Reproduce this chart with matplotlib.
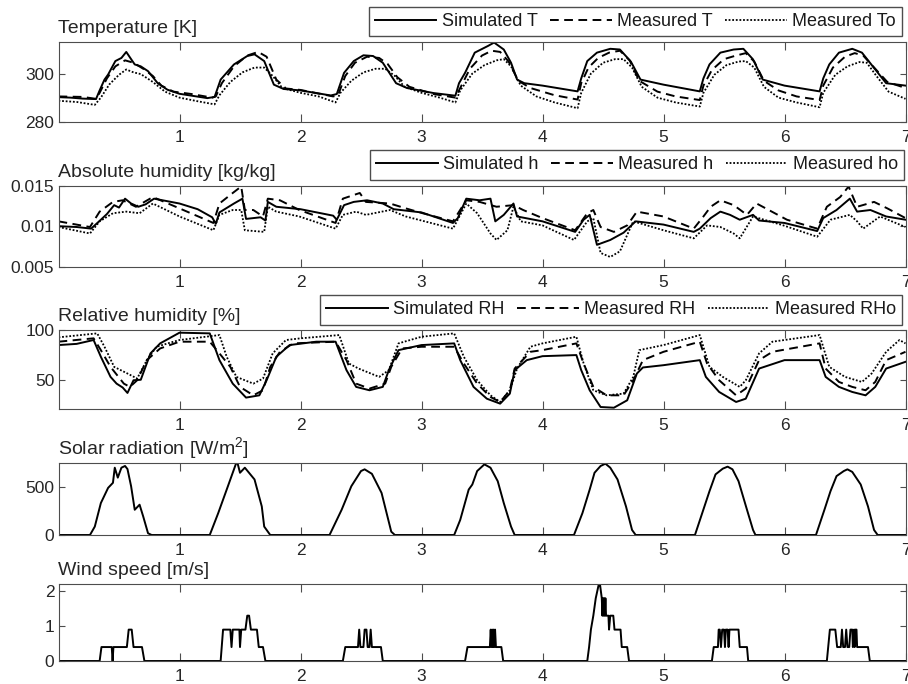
#!/usr/bin/env python3

import numpy as np
import matplotlib
matplotlib.use("Agg")
import matplotlib.pyplot as plt
#----

plt.rcParams['font.family'] = ['Liberation Sans', 'DejaVu Sans']
plt.rcParams['mathtext.fontset'] = 'custom'
plt.rcParams['mathtext.rm'] = 'Liberation Sans'
plt.rcParams['mathtext.it'] = 'Liberation Sans:italic'

# ---- Temperature [K], values (time in days)
t_T_sim = [0.0, 0.1, 0.2, 0.31, 0.34, 0.38, 0.41, 0.47, 0.52, 0.56, 0.6, 0.63, 0.68, 0.74, 0.82, 0.9, 1.0, 1.23, 1.29,
           1.34, 1.45, 1.56, 1.62, 1.70, 1.78, 1.86, 2.0, 2.25, 2.30,
           2.36, 2.44, 2.52, 2.60, 2.68, 2.79, 2.88, 3.10, 3.28,
           3.31, 3.36, 3.44, 3.55, 3.60, 3.68, 3.74, 3.79, 3.85, 4.0, 4.29,
           4.32, 4.37, 4.45, 4.56, 4.64, 4.73, 4.81, 5.0, 5.30,
           5.33, 5.38, 5.47, 5.58, 5.66, 5.74, 5.82, 6.0, 6.29,
           6.32, 6.37, 6.45, 6.56, 6.64, 6.75, 6.84, 7.0]
T_sim = [290.2, 290.0, 289.6, 289.4, 293.0, 297.5, 299.6, 305.2, 306.5, 309.0, 306.0, 303.8, 303.0, 301.0, 296.0, 293.3, 291.6, 289.8, 290.3,
         297.5, 303.8, 307.3, 308.0, 305.2, 295.4, 293.6, 293.0, 290.9, 291.5,
         300.3, 305.2, 307.6, 307.3, 304.5, 296.0, 294.0, 291.9, 290.8,
         296.0, 300.3, 308.7, 311.5, 312.9, 310.0, 304.5, 297.5, 296.0, 295.0, 292.6,
         298.0, 305.2, 308.7, 310.3, 310.0, 305.0, 297.5, 295.4, 292.6,
         298.0, 303.8, 308.7, 310.0, 310.3, 305.9, 297.5, 295.0, 292.6,
         298.0, 303.8, 308.7, 310.3, 308.7, 301.7, 296.0, 295.0]

t_T_meas = [0.0, 0.2, 0.31, 0.34, 0.40, 0.47, 0.55, 0.62, 0.7, 0.78, 0.85, 0.95, 1.1, 1.27,
            1.30, 1.35, 1.45, 1.56, 1.65, 1.72, 1.80, 1.88, 2.0, 2.27,
            2.31, 2.37, 2.45, 2.55, 2.65, 2.72, 2.80, 2.9, 3.1, 3.28,
            3.32, 3.40, 3.50, 3.58, 3.65, 3.72, 3.80, 3.9, 4.1, 4.29,
            4.32, 4.38, 4.46, 4.55, 4.64, 4.72, 4.80, 4.95, 5.1, 5.30,
            5.33, 5.40, 5.50, 5.60, 5.68, 5.75, 5.83, 5.95, 6.1, 6.29,
            6.32, 6.40, 6.50, 6.58, 6.65, 6.75, 6.85, 7.0]
T_meas = [290.5, 290.3, 289.5, 292.0, 298.0, 303.0, 305.5, 304.5, 302.0, 299.0, 295.0, 292.5, 291.5, 290.0,
          290.5, 296.0, 303.0, 307.5, 309.0, 307.0, 297.5, 293.8, 293.2, 290.5,
          291.0, 299.0, 304.5, 307.0, 306.5, 304.0, 298.5, 294.5, 291.5, 290.0,
          294.0, 302.0, 307.5, 309.5, 309.0, 305.0, 297.0, 294.0, 291.0, 289.2,
          296.0, 302.5, 306.5, 308.7, 309.5, 305.5, 297.0, 292.5, 290.5, 289.0,
          295.0, 301.5, 306.0, 307.5, 308.5, 305.0, 297.0, 293.0, 290.5, 289.0,
          295.0, 302.5, 307.0, 308.5, 307.5, 302.0, 296.5, 294.0]

t_T_out = [0.0, 0.15, 0.30, 0.35, 0.42, 0.50, 0.56, 0.62, 0.68, 0.78, 0.88, 1.0, 1.15, 1.29,
           1.33, 1.42, 1.52, 1.62, 1.70, 1.77, 1.85, 2.0, 2.15, 2.29,
           2.33, 2.42, 2.52, 2.62, 2.70, 2.78, 2.86, 3.0, 3.15, 3.28,
           3.32, 3.42, 3.52, 3.62, 3.68, 3.74, 3.82, 3.95, 4.1, 4.29,
           4.32, 4.40, 4.50, 4.60, 4.67, 4.74, 4.82, 4.95, 5.1, 5.30,
           5.33, 5.42, 5.52, 5.62, 5.68, 5.75, 5.83, 5.95, 6.1, 6.29,
           6.32, 6.42, 6.52, 6.62, 6.68, 6.76, 6.86, 7.0]
T_out = [288.7, 288.2, 287.0, 290.0, 295.5, 299.5, 301.7, 300.5, 299.8, 296.5, 292.5, 290.0, 288.5, 287.2,
         291.0, 296.5, 300.5, 302.5, 302.5, 299.0, 294.0, 292.0, 290.5, 288.0,
         292.0, 297.0, 300.5, 302.0, 302.0, 299.0, 294.5, 292.0, 290.0, 288.0,
         293.0, 300.0, 303.5, 305.5, 306.0, 303.0, 295.0, 290.5, 288.0, 285.6,
         292.0, 300.0, 304.5, 306.0, 306.0, 302.5, 294.5, 290.0, 288.0, 286.3,
         292.0, 299.5, 303.5, 305.0, 305.2, 302.5, 294.5, 290.0, 288.0, 286.0,
         292.0, 299.5, 303.0, 304.8, 304.5, 299.0, 292.5, 289.5]

# ---- Absolute humidity [kg/kg]
t_h_sim = [0.0, 0.15, 0.27, 0.35, 0.40, 0.46, 0.50, 0.55, 0.60, 0.66, 0.72, 0.79, 1.0, 1.15, 1.27, 1.30,
           1.33, 1.45, 1.52, 1.55, 1.67, 1.71, 1.73, 1.80, 2.0, 2.27, 2.30,
           2.36, 2.44, 2.55, 2.68, 2.77, 3.0, 3.26,
           3.30, 3.37, 3.48, 3.57, 3.61, 3.68, 3.76, 3.79, 4.0, 4.27,
           4.34, 4.39, 4.45, 4.56, 4.67, 4.77, 5.0, 5.25,
           5.30, 5.39, 5.47, 5.55, 5.63, 5.74, 5.79, 6.0, 6.27,
           6.32, 6.43, 6.54, 6.60, 6.71, 6.84, 7.0]
h_sim = [0.0100, 0.0099, 0.0097, 0.0108, 0.0115, 0.0126, 0.0123, 0.0134, 0.0128, 0.0124, 0.0127, 0.0134, 0.0128, 0.0121, 0.0111, 0.0103,
         0.0117, 0.0128, 0.0134, 0.0109, 0.0111, 0.0107, 0.0130, 0.0124, 0.0121, 0.0113, 0.0108,
         0.0126, 0.0130, 0.0132, 0.0128, 0.0121, 0.0117, 0.0104,
         0.0110, 0.0134, 0.0132, 0.0134, 0.0106, 0.0114, 0.0128, 0.0112, 0.0106, 0.0093,
         0.0108, 0.0114, 0.0077, 0.0083, 0.0092, 0.0106, 0.0102, 0.0093,
         0.0097, 0.0110, 0.0118, 0.0114, 0.0108, 0.0114, 0.0107, 0.0104, 0.0094,
         0.0110, 0.0120, 0.0134, 0.0118, 0.0120, 0.0112, 0.0108]

t_h_meas = [0.0, 0.26, 0.34, 0.45, 0.53, 0.64, 0.78, 1.0, 1.28,
            1.33, 1.44, 1.51, 1.54, 1.61, 1.69, 1.73, 1.83, 1.99, 2.29,
            2.35, 2.49, 2.54, 2.74, 2.87, 3.01, 3.26,
            3.37, 3.48, 3.62, 3.76, 3.84, 4.0, 4.27,
            4.37, 4.42, 4.48, 4.59, 4.70, 4.78, 5.0, 5.25,
            5.33, 5.39, 5.47, 5.58, 5.69, 5.77, 6.02, 6.27,
            6.35, 6.46, 6.53, 6.60, 6.74, 6.85, 7.0]
h_meas = [0.0106, 0.0099, 0.0118, 0.0130, 0.0132, 0.0124, 0.0136, 0.0122, 0.0104,
          0.0128, 0.0141, 0.0149, 0.0120, 0.0120, 0.0112, 0.0134, 0.0132, 0.0120, 0.0104,
          0.0134, 0.0141, 0.0130, 0.0128, 0.0122, 0.0116, 0.0106,
          0.0132, 0.0130, 0.0124, 0.0126, 0.0120, 0.0110, 0.0095,
          0.0116, 0.0120, 0.0099, 0.0093, 0.0101, 0.0118, 0.0112, 0.0097,
          0.0112, 0.0124, 0.0132, 0.0126, 0.0114, 0.0128, 0.0108, 0.0097,
          0.0124, 0.0136, 0.0149, 0.0124, 0.0130, 0.0122, 0.0110]

t_h_out = [0.0, 0.26, 0.34, 0.45, 0.56, 0.67, 0.78, 1.0, 1.28,
           1.33, 1.44, 1.51, 1.54, 1.70, 1.73, 1.80, 1.99, 2.29,
           2.35, 2.46, 2.54, 2.74, 2.87, 3.26,
           3.37, 3.46, 3.57, 3.62, 3.71, 3.76, 3.82, 4.0, 4.26,
           4.37, 4.42, 4.48, 4.56, 4.64, 4.75, 5.0, 5.25,
           5.36, 5.47, 5.58, 5.63, 5.74, 5.99, 6.27,
           6.38, 6.54, 6.60, 6.65, 6.79, 7.0]
h_out = [0.0099, 0.0091, 0.0106, 0.0116, 0.0118, 0.0116, 0.0128, 0.0112, 0.0095,
         0.0114, 0.0120, 0.0120, 0.0095, 0.0093, 0.0124, 0.0118, 0.0112, 0.0097,
         0.0114, 0.0118, 0.0114, 0.0120, 0.0112, 0.0097,
         0.0128, 0.0116, 0.0091, 0.0083, 0.0095, 0.0124, 0.0106, 0.0101, 0.0083,
         0.0106, 0.0110, 0.0067, 0.0062, 0.0069, 0.0106, 0.0095, 0.0085,
         0.0101, 0.0099, 0.0091, 0.0085, 0.0112, 0.0101, 0.0087,
         0.0108, 0.0114, 0.0106, 0.0097, 0.0112, 0.0099]

# ---- Relative humidity [%]
t_RH_sim = [0.0, 0.15, 0.29, 0.35, 0.43, 0.48, 0.53, 0.57, 0.62, 0.68, 0.76, 0.84, 1.0, 1.25,
            1.33, 1.44, 1.55, 1.66, 1.72, 1.80, 1.91, 2.13, 2.29,
            2.38, 2.46, 2.57, 2.68, 2.73, 2.81, 3.0, 3.27,
            3.32, 3.43, 3.54, 3.65, 3.73, 3.77, 3.87, 4.0, 4.28,
            4.32, 4.39, 4.48, 4.59, 4.70, 4.78, 4.83, 5.0, 5.30,
            5.35, 5.46, 5.60, 5.68, 5.79, 6.0, 6.29,
            6.34, 6.45, 6.56, 6.67, 6.75, 6.84, 7.0]
RH_sim = [84.8, 86.0, 89.9, 73.0, 52.7, 45.9, 42.0, 36.5, 49.3, 49.8, 76.4, 86.5, 97.3, 96.6,
          69.6, 45.9, 31.8, 34.1, 49.3, 73.0, 84.8, 88.2, 88.2,
          59.5, 42.6, 39.2, 42.6, 59.5, 79.7, 84.8, 86.5,
          69.6, 42.6, 30.7, 25.7, 35.8, 59.5, 69.6, 73.6, 74.7,
          59.5, 39.2, 22.3, 21.6, 29.1, 56.1, 62.2, 64.5, 69.6,
          52.7, 37.5, 27.4, 30.7, 61.1, 69.6, 69.6,
          52.7, 42.6, 37.5, 34.1, 42.6, 61.1, 67.9]

t_RH_meas = [0.0, 0.29, 0.35, 0.43, 0.54, 0.59, 0.65, 0.73, 0.84, 1.0, 1.25,
             1.33, 1.42, 1.50, 1.61, 1.69, 1.75, 1.83, 1.94, 2.29,
             2.38, 2.46, 2.57, 2.70, 2.75, 2.84, 3.0, 3.27,
             3.35, 3.46, 3.57, 3.65, 3.73, 3.77, 3.90, 4.0, 4.28,
             4.34, 4.42, 4.53, 4.67, 4.75, 4.83, 5.0, 5.30,
             5.36, 5.46, 5.60, 5.68, 5.79, 5.90, 6.29,
             6.34, 6.45, 6.56, 6.67, 6.75, 6.84, 7.0]
RH_meas = [88.2, 91.6, 79.7, 62.8, 45.9, 42.6, 49.3, 69.6, 81.4, 88.2, 88.2,
           76.4, 62.8, 42.6, 34.1, 39.2, 62.8, 78.0, 86.5, 88.2,
           69.6, 45.9, 40.9, 45.9, 62.8, 81.4, 83.1, 83.1,
           66.2, 45.9, 32.4, 27.4, 39.2, 61.1, 78.0, 79.7, 86.5,
           66.2, 42.6, 34.1, 34.1, 49.3, 69.6, 78.0, 88.2,
           66.2, 49.3, 34.1, 40.9, 69.6, 78.0, 86.5,
           61.1, 47.6, 42.6, 39.2, 47.6, 69.6, 78.0]

t_RH_out = [0.0, 0.32, 0.38, 0.46, 0.57, 0.65, 0.73, 0.81, 0.95, 1.0, 1.33,
            1.39, 1.47, 1.61, 1.69, 1.77, 1.88, 2.0, 2.32,
            2.40, 2.48, 2.65, 2.73, 2.81, 3.0, 3.27,
            3.35, 3.46, 3.57, 3.65, 3.73, 3.79, 3.90, 4.0, 4.28,
            4.34, 4.42, 4.53, 4.67, 4.75, 4.80, 5.0, 5.30,
            5.38, 5.49, 5.63, 5.68, 5.79, 5.90, 6.29,
            6.37, 6.50, 6.64, 6.72, 6.84, 6.95, 7.0]
RH_out = [92.6, 96.6, 83.1, 62.8, 56.1, 51.0, 69.6, 83.1, 88.2, 89.9, 94.9,
          73.0, 52.7, 45.9, 51.0, 76.4, 89.9, 91.6, 94.9,
          66.2, 61.1, 52.7, 59.5, 86.5, 93.2, 96.6,
          73.0, 49.3, 34.1, 27.4, 39.2, 61.1, 83.1, 86.5, 93.2,
          66.2, 39.2, 34.1, 35.8, 52.7, 79.7, 84.8, 94.9,
          62.8, 52.7, 42.6, 49.3, 76.4, 88.2, 94.9,
          62.8, 52.7, 47.6, 56.1, 78.0, 89.9, 86.5]

# ---- Solar radiation [W/m2]
t_sol = [0.0, 0.26, 0.30, 0.35, 0.41, 0.45, 0.465, 0.49, 0.52, 0.55, 0.57, 0.60, 0.63, 0.67, 0.70, 0.74, 0.77,
         1.25, 1.32, 1.40, 1.46, 1.475, 1.50, 1.54, 1.62, 1.68, 1.70, 1.75,
         2.24, 2.34, 2.42, 2.50, 2.53, 2.59, 2.67, 2.75, 2.78,
         3.27, 3.32, 3.39, 3.42, 3.46, 3.52, 3.57, 3.63, 3.68, 3.74, 3.77,
         4.26, 4.33, 4.39, 4.43, 4.48, 4.52, 4.56, 4.62, 4.69, 4.74, 4.77,
         5.26, 5.32, 5.38, 5.43, 5.49, 5.53, 5.57, 5.62, 5.69, 5.74, 5.76,
         6.26, 6.33, 6.38, 6.43, 6.49, 6.52, 6.56, 6.63, 6.69, 6.74, 6.77, 7.0]
sol = [0, 0, 88, 334, 493, 546, 704, 600, 704, 722, 690, 510, 264, 317, 194, 18, 0,
       0, 229, 510, 722, 775, 651, 704, 581, 299, 88, 0,
       0, 264, 510, 669, 687, 640, 440, 35, 0,
       0, 158, 475, 528, 669, 739, 704, 563, 334, 88, 0,
       0, 229, 475, 651, 722, 746, 704, 581, 299, 53, 0,
       0, 229, 458, 634, 694, 715, 687, 563, 264, 53, 0,
       0, 264, 458, 616, 669, 687, 660, 528, 299, 53, 0, 0]

# ---- Wind speed [m/s]
t_wind = [0.0, 0.34, 0.355, 0.44, 0.447, 0.454, 0.565, 0.58, 0.605, 0.62, 0.69, 0.71,
          1.34, 1.36, 1.42, 1.43, 1.44, 1.495, 1.50, 1.51, 1.545, 1.56, 1.575, 1.59, 1.64, 1.655, 1.69, 1.71,
          2.35, 2.37, 2.475, 2.485, 2.495, 2.52, 2.53, 2.545, 2.555, 2.57, 2.58, 2.59, 2.665, 2.68,
          3.36, 3.38, 3.565, 3.572, 3.578, 3.584, 3.590, 3.596, 3.602, 3.608, 3.615, 3.66, 3.675,
          4.37, 4.385, 4.40, 4.42, 4.44, 4.465, 4.475, 4.49, 4.495, 4.50, 4.505, 4.51, 4.515, 4.52, 4.525,
          4.545, 4.55, 4.56, 4.585, 4.595, 4.645, 4.655, 4.70, 4.715,
          5.40, 5.415, 5.45, 5.456, 5.465, 5.475, 5.485, 5.50, 5.508, 5.515, 5.53, 5.538, 5.545, 5.62, 5.63, 5.69, 5.70,
          6.35, 6.375, 6.42, 6.435, 6.465, 6.475, 6.485, 6.50, 6.51, 6.52, 6.535, 6.545, 6.56, 6.565, 6.575, 6.58,
          6.585, 6.595, 6.60, 6.69, 6.705, 7.0]
wind = [0, 0, 0.4, 0.4, 0, 0.4, 0.4, 0.9, 0.9, 0.4, 0.4, 0,
        0, 0.9, 0.9, 0.4, 0.9, 0.9, 0.4, 0.9, 0.9, 1.3, 1.3, 0.9, 0.9, 0.4, 0.4, 0,
        0, 0.4, 0.4, 0.9, 0.4, 0.4, 0.9, 0.9, 0.4, 0.4, 0.9, 0.4, 0.4, 0,
        0, 0.4, 0.4, 0.9, 0.4, 0.9, 0.4, 0.9, 0.4, 0.9, 0.4, 0.4, 0,
        0, 0.4, 0.9, 1.3, 1.8, 2.2, 2.2, 1.8, 1.3, 1.8, 1.3, 1.8, 1.3, 1.8, 1.3,
        1.3, 0.9, 1.3, 1.3, 0.9, 0.9, 0.4, 0.4, 0,
        0, 0.4, 0.4, 0.9, 0.9, 0.4, 0.9, 0.9, 0.4, 0.9, 0.9, 0.4, 0.9, 0.9, 0.4, 0.4, 0,
        0, 0.9, 0.9, 0.4, 0.4, 0.9, 0.4, 0.4, 0.9, 0.4, 0.4, 0.9, 0.9, 0.4, 0.9, 0.4,
        0.9, 0.9, 0.4, 0.4, 0, 0]

xticks = [1, 2, 3, 4, 5, 6, 7]
titles = ['Temperature [K]', 'Absolute humidity [kg/kg]', 'Relative humidity [%]',
          'Solar radiation [W/m$^2$]', 'Wind speed [m/s]']
legend_T = ['Simulated T', 'Measured T', 'Measured To']
legend_h = ['Simulated h', 'Measured h', 'Measured ho']
legend_RH = ['Simulated RH', 'Measured RH', 'Measured RHo']

#----
W, H = 908, 684
fig = plt.figure(figsize=(W/100, H/100), dpi=100)

def add_panel(top_px, bot_px, left_px=58.5, right_px=905.5):
  return fig.add_axes([left_px/W, 1 - bot_px/H, (right_px - left_px)/W, (bot_px - top_px)/H])

def style(ax, ylim, yticks, ylabels, title):
  ax.set_xlim(0, 7)
  ax.set_ylim(*ylim)
  ax.set_xticks(xticks)
  ax.set_yticks(yticks, labels=ylabels)
  ax.tick_params(direction='in', top=True, right=True, width=0.8, colors='0.3',
                 labelcolor='0.15', labelsize=12.5)
  ax.tick_params(axis='x', pad=6, length=5.5)
  ax.tick_params(axis='y', pad=3, length=4.5)
  for sp in ax.spines.values():
    sp.set_color('0.3')
    sp.set_linewidth(0.8)
  ax.set_title(title, loc='left', fontsize=14, pad=6.5, color='0.15')

sol_kw = dict(color='k', lw=1.4, ls='-')
das_kw = dict(color='k', lw=1.4, ls=(0, (4.5, 2.8)))
dot_kw = dict(color='k', lw=1.3, ls=(0, (1, 1)))

def legend(ax, names, right_px, top_px):
  ax.legend(names, loc='upper right', bbox_to_anchor=(right_px/W, 1 - top_px/H),
            bbox_transform=fig.transFigure, borderaxespad=0, ncol=3, fontsize=13,
            handlelength=3.4, handletextpad=0.3, columnspacing=0.7, borderpad=0.35,
            fancybox=False, framealpha=1, edgecolor='0.3', labelcolor='0.1')

ax1 = add_panel(42.3, 121.7)
ax1.plot(t_T_sim, T_sim, **sol_kw)
ax1.plot(t_T_meas, T_meas, **das_kw)
ax1.plot(t_T_out, T_out, **dot_kw)
style(ax1, (280, 313), [280, 300], ['280', '300'], titles[0])
legend(ax1, legend_T, 902, 6.7)

ax2 = add_panel(185.7, 266.7)
ax2.plot(t_h_sim, h_sim, **sol_kw)
ax2.plot(t_h_meas, h_meas, **das_kw)
ax2.plot(t_h_out, h_out, **dot_kw)
style(ax2, (0.005, 0.015), [0.005, 0.01, 0.015], ['0.005', '0.01', '0.015'], titles[1])
legend(ax2, legend_h, 904, 150)

ax3 = add_panel(330, 409.3)
ax3.plot(t_RH_sim, RH_sim, **sol_kw)
ax3.plot(t_RH_meas, RH_meas, **das_kw)
ax3.plot(t_RH_out, RH_out, **dot_kw)
style(ax3, (20, 100), [50, 100], ['50', '100'], titles[2])
legend(ax3, legend_RH, 902, 295)

ax4 = add_panel(463.3, 535)
ax4.plot(t_sol, sol, **sol_kw)
style(ax4, (0, 750), [0, 500], ['0', '500'], titles[3])

ax5 = add_panel(584.3, 661)
ax5.plot(t_wind, wind, **sol_kw)
style(ax5, (0, 2.2), [0, 1, 2], ['0', '1', '2'], titles[4])

fig.savefig('out.png', dpi=100)
